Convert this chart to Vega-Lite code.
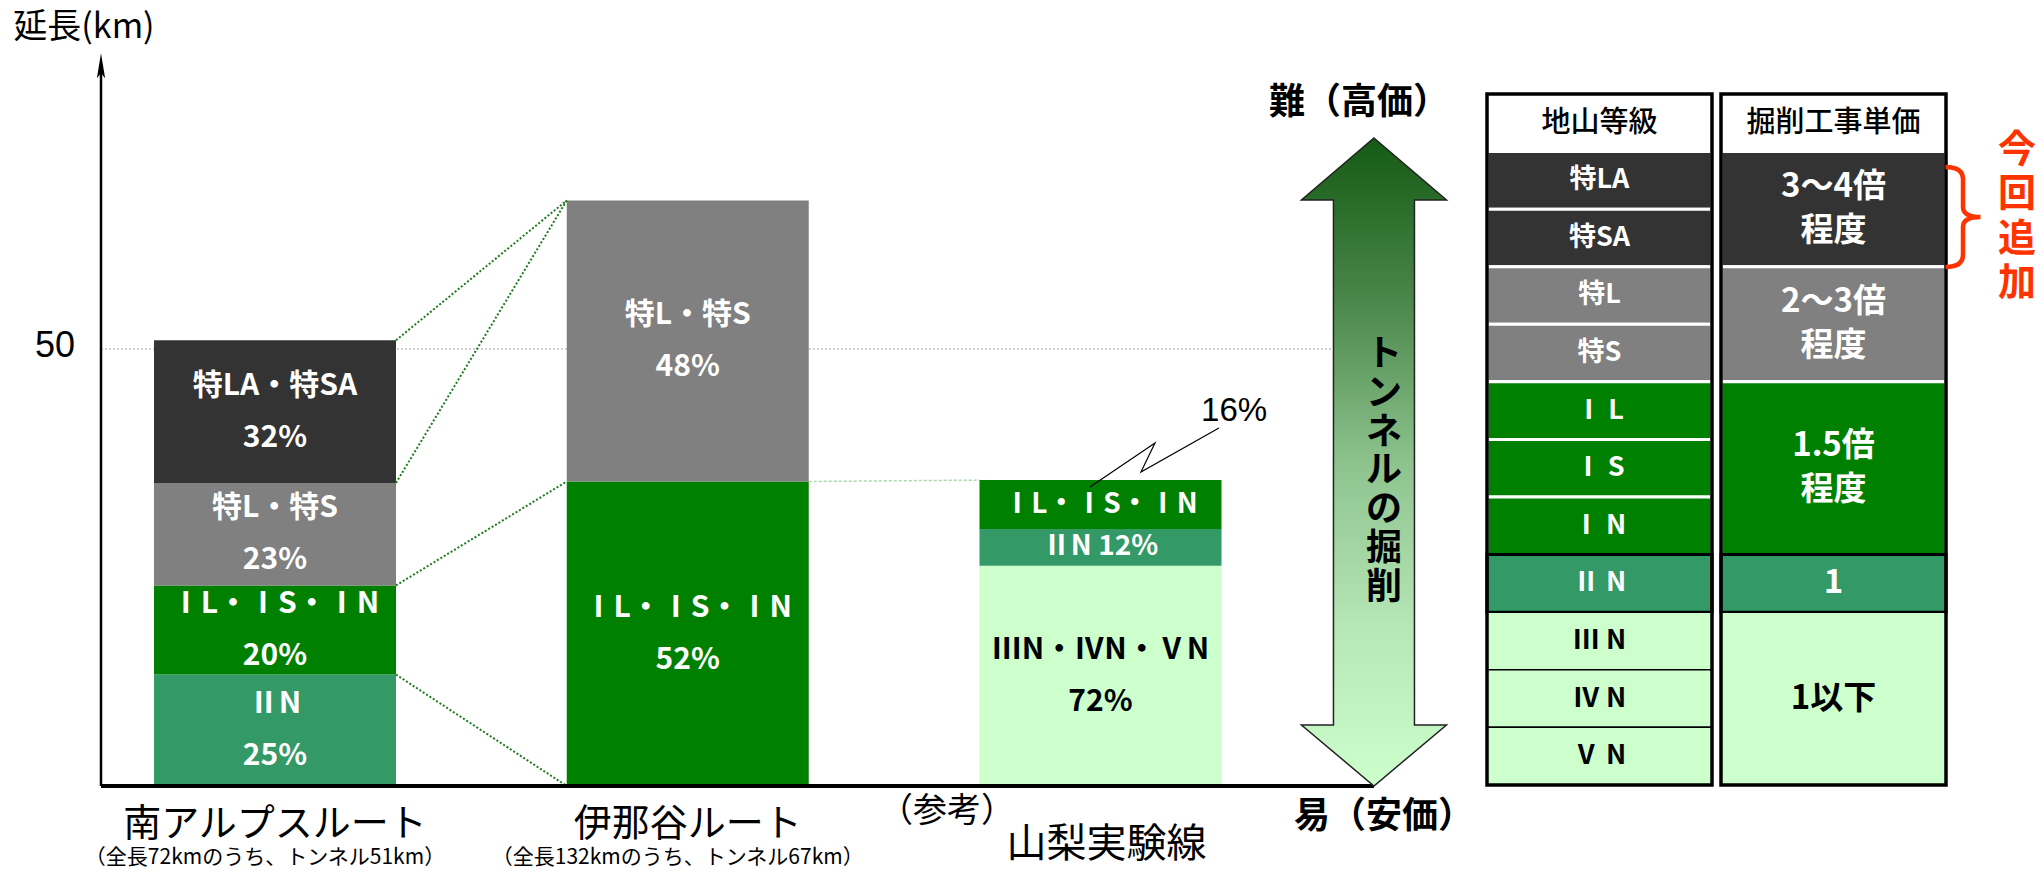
{
  "$schema": "https://vega.github.io/schema/vega-lite/v6.json",
  "width": 2040,
  "height": 874,
  "autosize": {"type": "none"},
  "padding": 0,
  "background": "white",
  "config": {
    "view": {"stroke": null},
    "axis": {"disable": true},
    "legend": {"disable": true},
    "font": "Noto Sans CJK JP"
  },
  "datasets": {
    "segments": [
      {"route": "南アルプスルート", "order": 1, "cls": "Ⅱ", "pct": 25, "km": 12.75, "label": "ⅡN\n25%"},
      {"route": "南アルプスルート", "order": 2, "cls": "Ⅰ", "pct": 20, "km": 10.2, "label": "ⅠL・ⅠS・ⅠN\n20%"},
      {"route": "南アルプスルート", "order": 3, "cls": "特", "pct": 23, "km": 11.73, "label": "特L・特S\n23%"},
      {"route": "南アルプスルート", "order": 4, "cls": "特A", "pct": 32, "km": 16.32, "label": "特LA・特SA\n32%"},
      {"route": "伊那谷ルート", "order": 1, "cls": "Ⅰ", "pct": 52, "km": 34.84, "label": "ⅠL・ⅠS・ⅠN\n52%"},
      {"route": "伊那谷ルート", "order": 2, "cls": "特", "pct": 48, "km": 32.16, "label": "特L・特S\n48%"},
      {"route": "山梨実験線", "order": 1, "cls": "Ⅲ以下", "pct": 72, "km": 25.2, "label": "ⅢN・ⅣN・ⅤN\n72%"},
      {"route": "山梨実験線", "order": 2, "cls": "Ⅱ", "pct": 12, "km": 4.2, "label": "ⅡN 12%"},
      {"route": "山梨実験線", "order": 3, "cls": "Ⅰ", "pct": 16, "km": 5.6, "label": "ⅠL・ⅠS・ⅠN"}
    ],
    "links": [
      {"from": "南アルプスルート", "to": "伊那谷ルート", "y_from": 51, "y_to": 67},
      {"from": "南アルプスルート", "to": "伊那谷ルート", "y_from": 34.68, "y_to": 67},
      {"from": "南アルプスルート", "to": "伊那谷ルート", "y_from": 22.95, "y_to": 34.84},
      {"from": "南アルプスルート", "to": "伊那谷ルート", "y_from": 12.75, "y_to": 0}
    ],
    "links2": [
      {"from": "伊那谷ルート", "to": "山梨実験線", "y_from": 34.84, "y_to": 35}
    ],
    "routes": [
      {"route": "南アルプスルート", "sub": "（全長72kmのうち、トンネル51km）", "note": ""},
      {"route": "伊那谷ルート", "sub": "（全長132kmのうち、トンネル67km）", "note": ""},
      {"route": "山梨実験線", "sub": "", "note": "（参考）"}
    ],
    "cells": [
      {"col": "地山等級", "r0": 0, "r1": 1, "cls": "見出し", "text": "地山等級"},
      {"col": "地山等級", "r0": 1, "r1": 2, "cls": "特A", "text": "特LA"},
      {"col": "地山等級", "r0": 2, "r1": 3, "cls": "特A", "text": "特SA"},
      {"col": "地山等級", "r0": 3, "r1": 4, "cls": "特", "text": "特L"},
      {"col": "地山等級", "r0": 4, "r1": 5, "cls": "特", "text": "特S"},
      {"col": "地山等級", "r0": 5, "r1": 6, "cls": "Ⅰ", "text": "Ⅰ L"},
      {"col": "地山等級", "r0": 6, "r1": 7, "cls": "Ⅰ", "text": "Ⅰ S"},
      {"col": "地山等級", "r0": 7, "r1": 8, "cls": "Ⅰ", "text": "Ⅰ N"},
      {"col": "地山等級", "r0": 8, "r1": 9, "cls": "Ⅱ", "text": "Ⅱ N"},
      {"col": "地山等級", "r0": 9, "r1": 10, "cls": "Ⅲ以下", "text": "Ⅲ N"},
      {"col": "地山等級", "r0": 10, "r1": 11, "cls": "Ⅲ以下", "text": "Ⅳ N"},
      {"col": "地山等級", "r0": 11, "r1": 12, "cls": "Ⅲ以下", "text": "Ⅴ N"},
      {"col": "掘削工事単価", "r0": 0, "r1": 1, "cls": "見出し", "text": "掘削工事単価"},
      {"col": "掘削工事単価", "r0": 1, "r1": 3, "cls": "特A", "text": "3〜4倍\n程度"},
      {"col": "掘削工事単価", "r0": 3, "r1": 5, "cls": "特", "text": "2〜3倍\n程度"},
      {"col": "掘削工事単価", "r0": 5, "r1": 8, "cls": "Ⅰ", "text": "1.5倍\n程度"},
      {"col": "掘削工事単価", "r0": 8, "r1": 9, "cls": "Ⅱ", "text": "1"},
      {"col": "掘削工事単価", "r0": 9, "r1": 12, "cls": "Ⅲ以下", "text": "1以下"}
    ]
  },
  "layer": [
    {
      "layer": [
        {
          "data": {"values": [{}]},
          "mark": {"type": "rule", "stroke": "#A0A0A0", "strokeDash": [2, 2], "strokeWidth": 1},
          "encoding": {
            "x": {"datum": "南アルプスルート", "type": "nominal", "bandPosition": -0.219,
              "scale": {"type": "band", "domain": ["南アルプスルート", "伊那谷ルート", "山梨実験線"], "range": [154, 1221.5], "paddingInner": 0.4137, "paddingOuter": 0}},
            "x2": {"datum": "山梨実験線", "bandPosition": 1.461},
            "y": {"datum": 50, "type": "quantitative", "scale": {"domain": [-10.069, 89.931], "nice": false, "zero": false}}
          }
        },
        {
          "data": {"name": "links2"},
          "mark": {"type": "rule", "stroke": "#A9D9A9", "strokeDash": [3, 2], "strokeWidth": 1.5},
          "encoding": {
            "x": {"field": "from", "type": "nominal", "bandPosition": 1},
            "x2": {"field": "to", "bandPosition": 0},
            "y": {"field": "y_from", "type": "quantitative"},
            "y2": {"field": "y_to"}
          }
        },
        {
          "data": {"name": "segments"},
          "transform": [
            {"stack": "km", "groupby": ["route"], "sort": [{"field": "order", "order": "ascending"}], "as": ["y0", "y1"]}
          ],
          "mark": {"type": "bar"},
          "encoding": {
            "x": {"field": "route", "type": "nominal"},
            "y": {"field": "y0", "type": "quantitative"},
            "y2": {"field": "y1"},
            "color": {"field": "cls", "type": "nominal",
              "scale": {"domain": ["見出し", "特A", "特", "Ⅰ", "Ⅱ", "Ⅲ以下"], "range": ["#FFFFFF", "#333333", "#808080", "#008000", "#339966", "#CCFFCC"]}}
          }
        },
        {
          "data": {"name": "links"},
          "mark": {"type": "rule", "stroke": "#1E7B1E", "strokeDash": [2, 2], "strokeWidth": 2},
          "encoding": {
            "x": {"field": "from", "type": "nominal", "bandPosition": 1},
            "x2": {"field": "to", "bandPosition": 0},
            "y": {"field": "y_from", "type": "quantitative"},
            "y2": {"field": "y_to"}
          }
        },
        {
          "data": {"name": "segments"},
          "transform": [
            {"stack": "km", "groupby": ["route"], "sort": [{"field": "order", "order": "ascending"}], "as": ["y0", "y1"]},
            {"filter": "indexof(datum.label, '\\n') >= 0"},
            {"fold": ["y0", "y1"], "as": ["k", "v"]},
            {"aggregate": [{"op": "mean", "field": "v", "as": "mid"}], "groupby": ["route", "label", "cls"]}
          ],
          "mark": {"type": "text", "fontSize": 30, "fontWeight": "bold", "lineBreak": "\n", "lineHeight": 52, "baseline": "middle", "align": "center", "dy": -26},
          "encoding": {
            "x": {"field": "route", "type": "nominal"},
            "y": {"field": "mid", "type": "quantitative"},
            "text": {"field": "label"},
            "color": {"condition": {"test": "datum.cls === 'Ⅲ以下'", "value": "#000000"}, "value": "#FFFFFF"}
          }
        },
        {
          "data": {"name": "segments"},
          "transform": [
            {"stack": "km", "groupby": ["route"], "sort": [{"field": "order", "order": "ascending"}], "as": ["y0", "y1"]},
            {"filter": "indexof(datum.label, '\\n') < 0"},
            {"fold": ["y0", "y1"], "as": ["k", "v"]},
            {"aggregate": [{"op": "mean", "field": "v", "as": "mid"}], "groupby": ["route", "label", "cls"]}
          ],
          "mark": {"type": "text", "fontSize": 28, "fontWeight": "bold", "baseline": "middle", "align": "center"},
          "encoding": {
            "x": {"field": "route", "type": "nominal"},
            "y": {"field": "mid", "type": "quantitative"},
            "text": {"field": "label"},
            "color": {"condition": {"test": "datum.cls === 'Ⅲ以下'", "value": "#000000"}, "value": "#FFFFFF"}
          }
        },
        {
          "data": {"values": [{}]},
          "mark": {"type": "rule", "stroke": "black", "strokeWidth": 4},
          "encoding": {
            "x": {"datum": "南アルプスルート", "type": "nominal", "bandPosition": -0.219},
            "x2": {"datum": "山梨実験線", "bandPosition": 1.63},
            "y": {"datum": 0, "type": "quantitative"}
          }
        },
        {
          "data": {"values": [{}]},
          "mark": {"type": "rule", "stroke": "black", "strokeWidth": 2.5},
          "encoding": {
            "x": {"datum": "南アルプスルート", "type": "nominal", "bandPosition": -0.219},
            "y": {"datum": 0, "type": "quantitative"},
            "y2": {"datum": 82}
          }
        },
        {
          "data": {"values": [{}]},
          "mark": {"type": "point", "shape": "M0,-1L0.33,1L0,0.6L-0.33,1Z", "size": 625, "filled": true, "fill": "black", "stroke": null, "opacity": 1},
          "encoding": {
            "x": {"datum": "南アルプスルート", "type": "nominal", "bandPosition": -0.219},
            "y": {"datum": 82.4, "type": "quantitative"}
          }
        },
        {
          "data": {"values": [{}]},
          "mark": {"type": "text", "text": "50", "fontSize": 36, "font": "Liberation Sans Narrow, Liberation Sans, sans-serif", "align": "right", "baseline": "middle", "dx": -26, "color": "black"},
          "encoding": {
            "x": {"datum": "南アルプスルート", "type": "nominal", "bandPosition": -0.219},
            "y": {"datum": 50.3, "type": "quantitative"}
          }
        },
        {
          "data": {"values": [{}]},
          "mark": {"type": "text", "text": "延長(km)", "fontSize": 34, "align": "center", "baseline": "middle", "color": "black"},
          "encoding": {
            "x": {"datum": "南アルプスルート", "type": "nominal", "bandPosition": -0.2893},
            "y": {"datum": 86.73, "type": "quantitative"}
          }
        },
        {
          "data": {"name": "routes"},
          "transform": [{"filter": "datum.route !== '山梨実験線'"}],
          "mark": {"type": "text", "fontSize": 38, "align": "center", "baseline": "middle", "color": "black"},
          "encoding": {
            "x": {"field": "route", "type": "nominal"},
            "y": {"datum": -4.46, "type": "quantitative"},
            "text": {"field": "route"}
          }
        },
        {
          "data": {"name": "routes"},
          "transform": [{"filter": "datum.route === '山梨実験線'"}],
          "mark": {"type": "text", "fontSize": 40, "align": "center", "baseline": "middle", "color": "black", "dx": 6},
          "encoding": {
            "x": {"field": "route", "type": "nominal"},
            "y": {"datum": -6.75, "type": "quantitative"},
            "text": {"field": "route"}
          }
        },
        {
          "data": {"name": "routes"},
          "mark": {"type": "text", "fontSize": 21, "align": "center", "baseline": "middle", "color": "black", "dx": -10},
          "encoding": {
            "x": {"field": "route", "type": "nominal"},
            "y": {"datum": -8.24, "type": "quantitative"},
            "text": {"field": "sub"}
          }
        },
        {
          "data": {"name": "routes"},
          "mark": {"type": "text", "fontSize": 34, "align": "center", "baseline": "middle", "color": "black"},
          "encoding": {
            "x": {"field": "route", "type": "nominal", "bandPosition": -0.134},
            "y": {"datum": -2.97, "type": "quantitative"},
            "text": {"field": "note"}
          }
        },
        {
          "data": {"values": [{}]},
          "mark": {"type": "point", "shape": "M-0.992,0.454L0.008,-0.223L-0.208,0.223L0.992,-0.454", "size": 16900, "filled": false, "stroke": "black", "strokeWidth": 1.2, "opacity": 1},
          "encoding": {
            "x": {"datum": "山梨実験線", "type": "nominal", "bandPosition": 0.723},
            "y": {"datum": 37.59, "type": "quantitative"}
          }
        },
        {
          "data": {"values": [{}]},
          "mark": {"type": "text", "text": "16%", "fontSize": 33, "font": "Liberation Sans Narrow, Liberation Sans, sans-serif", "align": "center", "baseline": "middle", "color": "black"},
          "encoding": {
            "x": {"datum": "山梨実験線", "type": "nominal", "bandPosition": 1.052},
            "y": {"datum": 42.9, "type": "quantitative"}
          }
        },
        {
          "data": {"values": [{}]},
          "mark": {
            "type": "point",
            "shape": "M0,-1L0.2238,-0.8086L0.125,-0.8086L0.125,0.8117L0.2238,0.8117L0,1L-0.2238,0.8117L-0.125,0.8117L-0.125,-0.8086L-0.2238,-0.8086Z",
            "size": 419904,
            "filled": true,
            "opacity": 1,
            "fill": {"gradient": "linear", "x1": 0, "y1": 0, "x2": 0, "y2": 1, "stops": [
              {"offset": 0, "color": "#145A14"},
              {"offset": 0.25, "color": "#4A874A"},
              {"offset": 0.5, "color": "#8DC28D"},
              {"offset": 0.75, "color": "#B5E6B5"},
              {"offset": 1, "color": "#CCFFCC"}
            ]},
            "stroke": "#222222",
            "strokeWidth": 1.5
          },
          "encoding": {
            "x": {"datum": "山梨実験線", "type": "nominal", "bandPosition": 1.63},
            "y": {"datum": 37.07, "type": "quantitative"}
          }
        },
        {
          "data": {"values": [{}]},
          "mark": {"type": "text", "text": ["ト", "ン", "ネ", "ル", "の", "掘", "削"], "fontSize": 36, "fontWeight": "bold", "lineHeight": 38.7, "align": "center", "baseline": "middle", "color": "black"},
          "encoding": {
            "x": {"datum": "山梨実験線", "type": "nominal", "bandPosition": 1.6715},
            "y": {"datum": 49.27, "type": "quantitative"}
          }
        },
        {
          "data": {"values": [{}]},
          "mark": {"type": "text", "text": "難（高価）", "fontSize": 36, "fontWeight": "bold", "align": "center", "baseline": "middle", "color": "black"},
          "encoding": {
            "x": {"datum": "山梨実験線", "type": "nominal", "bandPosition": 1.568},
            "y": {"datum": 78.15, "type": "quantitative"}
          }
        },
        {
          "data": {"values": [{}]},
          "mark": {"type": "text", "text": "易（安価）", "fontSize": 36, "fontWeight": "bold", "align": "center", "baseline": "middle", "color": "black"},
          "encoding": {
            "x": {"datum": "山梨実験線", "type": "nominal", "bandPosition": 1.671},
            "y": {"datum": -3.55, "type": "quantitative"}
          }
        }
      ]
    },
    {
      "layer": [
        {
          "data": {"name": "cells"},
          "mark": {"type": "rect", "opacity": 1},
          "encoding": {
            "x": {"field": "col", "type": "nominal",
              "scale": {"type": "band", "domain": ["地山等級", "掘削工事単価"], "range": [1487, 1946], "paddingInner": 0.03846, "paddingOuter": 0}},
            "y": {"field": "r0", "type": "quantitative", "scale": {"domain": [-1.632, 13.547], "nice": false, "zero": false, "reverse": true}},
            "y2": {"field": "r1"},
            "color": {"field": "cls", "type": "nominal",
              "scale": {"domain": ["見出し", "特A", "特", "Ⅰ", "Ⅱ", "Ⅲ以下"], "range": ["#FFFFFF", "#333333", "#808080", "#008000", "#339966", "#CCFFCC"]}},
            "stroke": {"condition": {"test": "datum.cls === 'Ⅱ' || datum.cls === 'Ⅲ以下'", "value": "#000000"}, "value": "#FFFFFF"},
            "strokeWidth": {"condition": {"test": "datum.cls === 'Ⅲ以下'", "value": 1.5}, "value": 3}
          }
        },
        {
          "data": {"name": "cells"},
          "transform": [
            {"aggregate": [{"op": "min", "field": "r0", "as": "top"}, {"op": "max", "field": "r1", "as": "bottom"}], "groupby": ["col"]}
          ],
          "mark": {"type": "rect", "fillOpacity": 0, "stroke": "black", "strokeWidth": 3.5},
          "encoding": {
            "x": {"field": "col", "type": "nominal"},
            "y": {"field": "top", "type": "quantitative"},
            "y2": {"field": "bottom"}
          }
        },
        {
          "data": {"name": "cells"},
          "transform": [
            {"filter": "datum.cls === '見出し'"},
            {"fold": ["r0", "r1"], "as": ["k", "v"]},
            {"aggregate": [{"op": "mean", "field": "v", "as": "mid"}], "groupby": ["col", "text", "cls"]}
          ],
          "mark": {"type": "text", "fontSize": 29, "fontWeight": 500, "align": "center", "baseline": "middle", "color": "black"},
          "encoding": {
            "x": {"field": "col", "type": "nominal"},
            "y": {"field": "mid", "type": "quantitative"},
            "text": {"field": "text"}
          }
        },
        {
          "data": {"name": "cells"},
          "transform": [
            {"filter": "datum.cls !== '見出し' && indexof(datum.text, '\\n') < 0"},
            {"fold": ["r0", "r1"], "as": ["k", "v"]},
            {"aggregate": [{"op": "mean", "field": "v", "as": "mid"}], "groupby": ["col", "text", "cls"]}
          ],
          "mark": {"type": "text", "fontWeight": "bold", "align": "center", "baseline": "middle"},
          "encoding": {
            "x": {"field": "col", "type": "nominal"},
            "y": {"field": "mid", "type": "quantitative"},
            "text": {"field": "text"},
            "size": {"condition": {"test": "datum.col === '掘削工事単価'", "value": 33}, "value": 27},
            "color": {"condition": {"test": "datum.cls === 'Ⅲ以下'", "value": "#000000"}, "value": "#FFFFFF"}
          }
        },
        {
          "data": {"name": "cells"},
          "transform": [
            {"filter": "indexof(datum.text, '\\n') >= 0"},
            {"fold": ["r0", "r1"], "as": ["k", "v"]},
            {"aggregate": [{"op": "mean", "field": "v", "as": "mid"}], "groupby": ["col", "text", "cls"]}
          ],
          "mark": {"type": "text", "fontWeight": "bold", "fontSize": 33, "lineBreak": "\n", "lineHeight": 44, "align": "center", "baseline": "middle", "dy": -22, "color": "#FFFFFF"},
          "encoding": {
            "x": {"field": "col", "type": "nominal"},
            "y": {"field": "mid", "type": "quantitative"},
            "text": {"field": "text"}
          }
        },
        {
          "data": {"values": [{}]},
          "mark": {"type": "point", "shape": "M-0.35,-1Q0,-1 0,-0.75L0,-0.2Q0,0 0.35,0Q0,0 0,0.2L0,0.75Q0,1 -0.35,1", "size": 10000, "filled": false, "stroke": "#FF3300", "strokeWidth": 4.5, "opacity": 1},
          "encoding": {
            "x": {"datum": "掘削工事単価", "type": "nominal", "bandPosition": 1.0756},
            "y": {"datum": 2.136, "type": "quantitative"}
          }
        },
        {
          "data": {"values": [{}]},
          "mark": {"type": "text", "text": ["今", "回", "追", "加"], "fontSize": 38, "fontWeight": "bold", "lineHeight": 44.5, "align": "center", "baseline": "middle", "color": "#FF3300"},
          "encoding": {
            "x": {"datum": "掘削工事単価", "type": "nominal", "bandPosition": 1.3156},
            "y": {"datum": 0.99, "type": "quantitative"}
          }
        }
      ]
    }
  ],
  "resolve": {"scale": {"x": "independent", "y": "independent", "color": "independent"}}
}
